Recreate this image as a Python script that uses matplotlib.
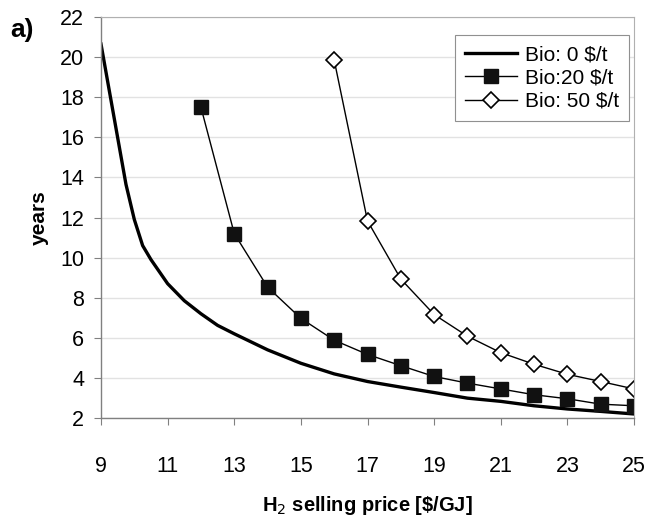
import numpy as np
import matplotlib.pyplot as plt

plt.rcParams['font.family'] = ['Liberation Sans', 'DejaVu Sans']

# payback time vs. H2 selling price for three biomass costs
price_bio0 = [9, 9.75, 10, 10.25, 10.5, 11, 11.5, 12, 12.5, 13, 14,
              15, 16, 17, 18, 19, 20, 21, 22, 23, 24, 25]
years_bio0 = [20.65, 13.65, 11.9, 10.6, 9.9, 8.7, 7.85, 7.2, 6.62, 6.2, 5.4,
              4.73, 4.2, 3.82, 3.54, 3.27, 2.99, 2.83, 2.61, 2.45, 2.33, 2.2]

price_bio20 = [12, 13, 14, 15, 16, 17, 18, 19, 20, 21, 22, 23, 24, 25]
years_bio20 = [17.5, 11.2, 8.53, 6.97, 5.88, 5.17, 4.61, 4.07, 3.74, 3.45,
               3.16, 2.96, 2.69, 2.61]

price_bio50 = [16, 17, 18, 19, 20, 21, 22, 23, 24, 25]
years_bio50 = [19.85, 11.83, 8.93, 7.16, 6.08, 5.26, 4.68, 4.18, 3.82, 3.45]

labels = ['Bio: 0 \\$/t', 'Bio:20 \\$/t', 'Bio: 50 \\$/t']

fig = plt.figure(figsize=(6.48, 5.16), dpi=100)
ax = fig.add_axes([101 / 648, 1 - 418 / 516, 533 / 648, 401 / 516])

ax.plot(price_bio0, years_bio0, color='black', lw=2.4, label=labels[0])
ax.plot(price_bio20, years_bio20, color='black', lw=1.0, marker='s',
        ms=9.5, mfc='#111111', mec='#111111', label=labels[1])
ax.plot(price_bio50, years_bio50, color='black', lw=1.0, marker='D',
        ms=8, mfc='white', mec='black', mew=1.2, label=labels[2])

ax.set_xlim(9, 25)
ax.set_ylim(2, 22)
ax.set_xticks(np.arange(9, 26, 2))
ax.set_yticks(np.arange(2, 23, 2))
ax.yaxis.grid(True, color='#e2e2e2', lw=1.0)
ax.set_axisbelow(True)

for side in ['top', 'right']:
    ax.spines[side].set_color('#b0b0b0')
    ax.spines[side].set_linewidth(0.8)
for side in ['left', 'bottom']:
    ax.spines[side].set_color('#808080')
    ax.spines[side].set_linewidth(1.0)

ax.tick_params(axis='both', direction='out', length=5, color='#808080',
               labelsize=15.5, pad=7)
ax.tick_params(axis='x', pad=22)

ax.set_ylabel('years', fontsize=15, fontweight='bold', labelpad=8)
ax.set_xlabel('H$_2$ selling price [\\$/GJ]', fontsize=14.5, fontweight='bold')
ax.xaxis.set_label_coords(0.5, -0.19)

leg = ax.legend(loc='upper right', bbox_to_anchor=(0.991, 0.955), fontsize=15,
                frameon=True, fancybox=False, framealpha=1, edgecolor='#909090',
                handlelength=2.5, handletextpad=0.35, borderpad=0.5,
                labelspacing=0.2, borderaxespad=0)
leg.get_frame().set_linewidth(0.8)

fig.text(10 / 648, 1 - 30 / 516, 'a)', fontsize=19, fontweight='bold',
         va='center', ha='left')

fig.savefig('out.png', dpi=100)
